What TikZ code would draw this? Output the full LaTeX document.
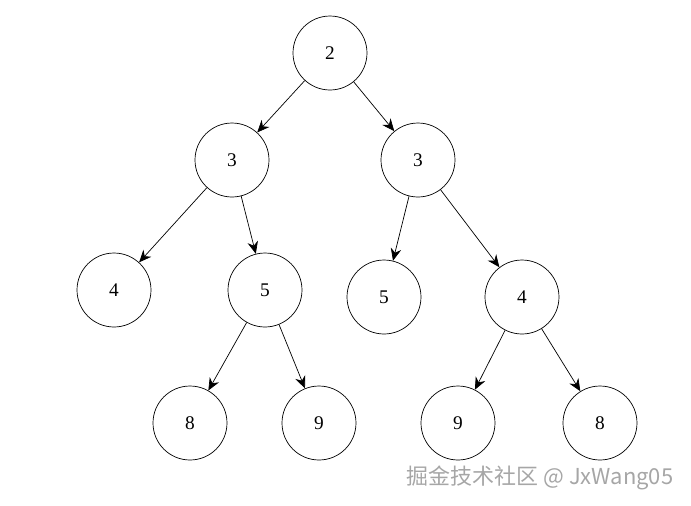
\documentclass[tikz,border=0pt]{standalone}
\usepackage{fontspec}
\setmainfont{Liberation Serif}
\newfontfamily\cjk{Noto Sans CJK SC}
\usetikzlibrary{arrows.meta}
\begin{document}
\begin{tikzpicture}[x=0.02cm, y=-0.02cm,
        every node/.style={font=\fontsize{11}{13}\selectfont},
        vertex/.style={draw, circle, minimum size=1.48cm, inner sep=0pt, thin},
        arrow/.style={-{Stealth[length=7pt, width=6pt]}, thin},
        watermark/.style={font=\cjk\fontsize{12.5}{14}\selectfont, text=gray!70}
    ]
    \useasboundingbox (0,0) rectangle (691,505);

    % Nodes -----------------------------------------------
    \node[vertex] (root) at (330,53)  {2};
    \node[vertex] (l)    at (232,160) {3};
    \node[vertex] (r)    at (418,160) {3};
    \node[vertex] (ll)   at (114,290) {4};
    \node[vertex] (lr)   at (265,290) {5};
    \node[vertex] (rl)   at (384,297) {5};
    \node[vertex] (rr)   at (522,297) {4};
    \node[vertex] (lrl)  at (190,423) {8};
    \node[vertex] (lrr)  at (319,423) {9};
    \node[vertex] (rrl)  at (458,423) {9};
    \node[vertex] (rrr)  at (600,423) {8};

    % edges
    \draw[arrow] (root) -- (l);
    \draw[arrow] (root) -- (r);
    \draw[arrow] (l) -- (ll);
    \draw[arrow] (l) -- (lr);
    \draw[arrow] (r) -- (rl);
    \draw[arrow] (r) -- (rr);
    \draw[arrow] (lr) -- (lrl);
    \draw[arrow] (lr) -- (lrr);
    \draw[arrow] (rr) -- (rrl);
    \draw[arrow] (rr) -- (rrr);

    \node[watermark] (wm) at (540,478) {掘金技术社区 @ JxWang05};
\end{tikzpicture}
\end{document}
